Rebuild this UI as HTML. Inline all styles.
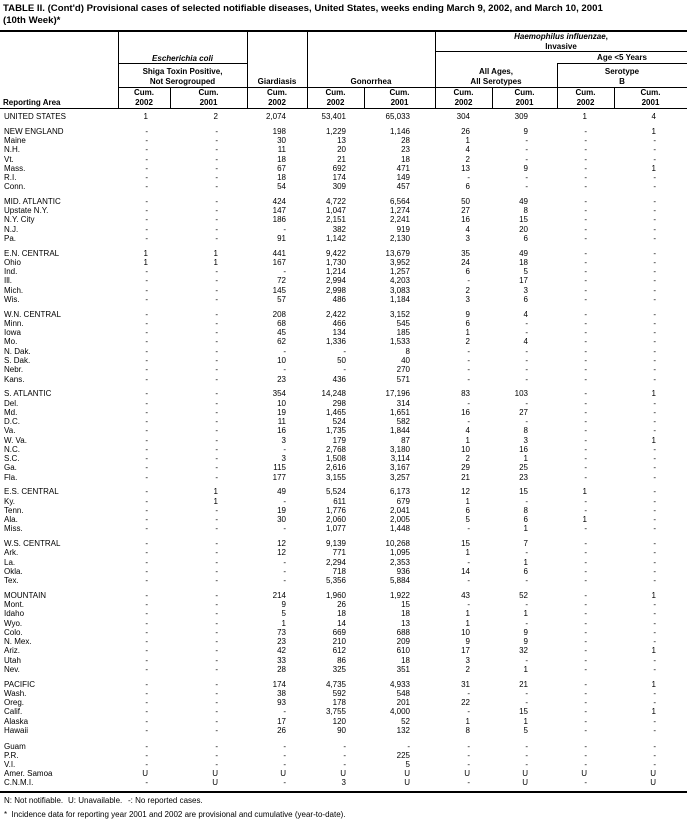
<!DOCTYPE html>
<html><head><meta charset="utf-8"><style>
html,body{margin:0;padding:0;background:#fff}
body{width:687px;height:818px;position:relative;overflow:hidden;font-family:"Liberation Sans",Arial,sans-serif;color:#000}
.t{position:absolute;left:3px;font-weight:bold;font-size:9.6px;white-space:nowrap}
.h{position:absolute;font-size:8px;font-weight:bold;text-align:center;white-space:nowrap;line-height:10px}
.i{font-style:italic}
.ln{position:absolute;background:#000}
.r{position:absolute;left:0;width:687px;height:10px;line-height:10px;font-size:8px;white-space:nowrap}
.r span{position:absolute;top:0}
.r span:nth-child(1){left:4px}
.r span:nth-child(2){right:539px}
.r span:nth-child(3){right:469px}
.r span:nth-child(4){right:401px}
.r span:nth-child(5){right:341px}
.r span:nth-child(6){right:277px}
.r span:nth-child(7){right:217px}
.r span:nth-child(8){right:159px}
.r span:nth-child(9){right:100px}
.r span:nth-child(10){right:31px}
.f{position:absolute;font-size:8px;white-space:nowrap}
</style></head><body>
<div class="t" style="top:3px">TABLE II. (Cont'd) Provisional cases of selected notifiable diseases, United States, weeks ending March 9, 2002, and March 10, 2001</div>
<div class="t" style="top:15px">(10th Week)*</div>
<div class="ln" style="left:0;top:30px;width:687px;height:1.5px"></div>
<div class="ln" style="left:0;top:108px;width:687px;height:1px"></div>
<div class="ln" style="left:0;top:791px;width:687px;height:1.5px"></div>
<div class="ln" style="left:118px;top:30px;width:1px;height:79px"></div>
<div class="ln" style="left:247px;top:30px;width:1px;height:79px"></div>
<div class="ln" style="left:307px;top:30px;width:1px;height:79px"></div>
<div class="ln" style="left:435px;top:30px;width:1px;height:79px"></div>
<div class="ln" style="left:557px;top:63px;width:1px;height:46px"></div>
<div class="ln" style="left:170px;top:87px;width:1px;height:22px"></div>
<div class="ln" style="left:364px;top:87px;width:1px;height:22px"></div>
<div class="ln" style="left:492px;top:87px;width:1px;height:22px"></div>
<div class="ln" style="left:614px;top:87px;width:1px;height:22px"></div>
<div class="ln" style="left:118px;top:63px;width:129px;height:1px"></div>
<div class="ln" style="left:435px;top:51px;width:252px;height:1px"></div>
<div class="ln" style="left:557px;top:63px;width:130px;height:1px"></div>
<div class="ln" style="left:118px;top:87px;width:569px;height:1px"></div>
<div class="h i" style="left:118px;width:129px;top:54px">Escherichia coli</div>
<div class="h" style="left:118px;width:129px;top:67px">Shiga Toxin Positive,<br>Not Serogrouped</div>
<div class="h" style="left:247px;width:60px;top:77px">Giardiasis</div>
<div class="h" style="left:307px;width:128px;top:77px">Gonorrhea</div>
<div class="h" style="left:435px;width:252px;top:32px"><span class="i">Haemophilus influenzae</span>,<br>Invasive</div>
<div class="h" style="left:435px;width:122px;top:67px">All Ages,<br>All Serotypes</div>
<div class="h" style="left:557px;width:130px;top:53px">Age &lt;5 Years</div>
<div class="h" style="left:557px;width:130px;top:67px">Serotype<br>B</div>
<div class="h" style="left:3px;top:98px;text-align:left">Reporting Area</div>
<div class="h" style="left:118px;width:52px;top:88px">Cum.<br>2002</div>
<div class="h" style="left:170px;width:77px;top:88px">Cum.<br>2001</div>
<div class="h" style="left:247px;width:60px;top:88px">Cum.<br>2002</div>
<div class="h" style="left:307px;width:57px;top:88px">Cum.<br>2002</div>
<div class="h" style="left:364px;width:71px;top:88px">Cum.<br>2001</div>
<div class="h" style="left:435px;width:57px;top:88px">Cum.<br>2002</div>
<div class="h" style="left:492px;width:65px;top:88px">Cum.<br>2001</div>
<div class="h" style="left:557px;width:57px;top:88px">Cum.<br>2002</div>
<div class="h" style="left:614px;width:73px;top:88px">Cum.<br>2001</div>

<div class="r" style="top:112px"><span>UNITED STATES</span><span>1</span><span>2</span><span>2,074</span><span>53,401</span><span>65,033</span><span>304</span><span>309</span><span>1</span><span>4</span></div>

<div class="r" style="top:127px"><span>NEW ENGLAND</span><span>-</span><span>-</span><span>198</span><span>1,229</span><span>1,146</span><span>26</span><span>9</span><span>-</span><span>1</span></div>
<div class="r" style="top:136px"><span>Maine</span><span>-</span><span>-</span><span>30</span><span>13</span><span>28</span><span>1</span><span>-</span><span>-</span><span>-</span></div>
<div class="r" style="top:145px"><span>N.H.</span><span>-</span><span>-</span><span>11</span><span>20</span><span>23</span><span>4</span><span>-</span><span>-</span><span>-</span></div>
<div class="r" style="top:155px"><span>Vt.</span><span>-</span><span>-</span><span>18</span><span>21</span><span>18</span><span>2</span><span>-</span><span>-</span><span>-</span></div>
<div class="r" style="top:164px"><span>Mass.</span><span>-</span><span>-</span><span>67</span><span>692</span><span>471</span><span>13</span><span>9</span><span>-</span><span>1</span></div>
<div class="r" style="top:173px"><span>R.I.</span><span>-</span><span>-</span><span>18</span><span>174</span><span>149</span><span>-</span><span>-</span><span>-</span><span>-</span></div>
<div class="r" style="top:182px"><span>Conn.</span><span>-</span><span>-</span><span>54</span><span>309</span><span>457</span><span>6</span><span>-</span><span>-</span><span>-</span></div>

<div class="r" style="top:197px"><span>MID. ATLANTIC</span><span>-</span><span>-</span><span>424</span><span>4,722</span><span>6,564</span><span>50</span><span>49</span><span>-</span><span>-</span></div>
<div class="r" style="top:206px"><span>Upstate N.Y.</span><span>-</span><span>-</span><span>147</span><span>1,047</span><span>1,274</span><span>27</span><span>8</span><span>-</span><span>-</span></div>
<div class="r" style="top:215px"><span>N.Y. City</span><span>-</span><span>-</span><span>186</span><span>2,151</span><span>2,241</span><span>16</span><span>15</span><span>-</span><span>-</span></div>
<div class="r" style="top:225px"><span>N.J.</span><span>-</span><span>-</span><span>-</span><span>382</span><span>919</span><span>4</span><span>20</span><span>-</span><span>-</span></div>
<div class="r" style="top:234px"><span>Pa.</span><span>-</span><span>-</span><span>91</span><span>1,142</span><span>2,130</span><span>3</span><span>6</span><span>-</span><span>-</span></div>

<div class="r" style="top:249px"><span>E.N. CENTRAL</span><span>1</span><span>1</span><span>441</span><span>9,422</span><span>13,679</span><span>35</span><span>49</span><span>-</span><span>-</span></div>
<div class="r" style="top:258px"><span>Ohio</span><span>1</span><span>1</span><span>167</span><span>1,730</span><span>3,952</span><span>24</span><span>18</span><span>-</span><span>-</span></div>
<div class="r" style="top:267px"><span>Ind.</span><span>-</span><span>-</span><span>-</span><span>1,214</span><span>1,257</span><span>6</span><span>5</span><span>-</span><span>-</span></div>
<div class="r" style="top:276px"><span>Ill.</span><span>-</span><span>-</span><span>72</span><span>2,994</span><span>4,203</span><span>-</span><span>17</span><span>-</span><span>-</span></div>
<div class="r" style="top:286px"><span>Mich.</span><span>-</span><span>-</span><span>145</span><span>2,998</span><span>3,083</span><span>2</span><span>3</span><span>-</span><span>-</span></div>
<div class="r" style="top:295px"><span>Wis.</span><span>-</span><span>-</span><span>57</span><span>486</span><span>1,184</span><span>3</span><span>6</span><span>-</span><span>-</span></div>

<div class="r" style="top:310px"><span>W.N. CENTRAL</span><span>-</span><span>-</span><span>208</span><span>2,422</span><span>3,152</span><span>9</span><span>4</span><span>-</span><span>-</span></div>
<div class="r" style="top:319px"><span>Minn.</span><span>-</span><span>-</span><span>68</span><span>466</span><span>545</span><span>6</span><span>-</span><span>-</span><span>-</span></div>
<div class="r" style="top:328px"><span>Iowa</span><span>-</span><span>-</span><span>45</span><span>134</span><span>185</span><span>1</span><span>-</span><span>-</span><span>-</span></div>
<div class="r" style="top:337px"><span>Mo.</span><span>-</span><span>-</span><span>62</span><span>1,336</span><span>1,533</span><span>2</span><span>4</span><span>-</span><span>-</span></div>
<div class="r" style="top:347px"><span>N. Dak.</span><span>-</span><span>-</span><span>-</span><span>-</span><span>8</span><span>-</span><span>-</span><span>-</span><span>-</span></div>
<div class="r" style="top:356px"><span>S. Dak.</span><span>-</span><span>-</span><span>10</span><span>50</span><span>40</span><span>-</span><span>-</span><span>-</span><span>-</span></div>
<div class="r" style="top:365px"><span>Nebr.</span><span>-</span><span>-</span><span>-</span><span>-</span><span>270</span><span>-</span><span>-</span><span>-</span><span>-</span></div>
<div class="r" style="top:375px"><span>Kans.</span><span>-</span><span>-</span><span>23</span><span>436</span><span>571</span><span>-</span><span>-</span><span>-</span><span>-</span></div>

<div class="r" style="top:389px"><span>S. ATLANTIC</span><span>-</span><span>-</span><span>354</span><span>14,248</span><span>17,196</span><span>83</span><span>103</span><span>-</span><span>1</span></div>
<div class="r" style="top:399px"><span>Del.</span><span>-</span><span>-</span><span>10</span><span>298</span><span>314</span><span>-</span><span>-</span><span>-</span><span>-</span></div>
<div class="r" style="top:408px"><span>Md.</span><span>-</span><span>-</span><span>19</span><span>1,465</span><span>1,651</span><span>16</span><span>27</span><span>-</span><span>-</span></div>
<div class="r" style="top:417px"><span>D.C.</span><span>-</span><span>-</span><span>11</span><span>524</span><span>582</span><span>-</span><span>-</span><span>-</span><span>-</span></div>
<div class="r" style="top:426px"><span>Va.</span><span>-</span><span>-</span><span>16</span><span>1,735</span><span>1,844</span><span>4</span><span>8</span><span>-</span><span>-</span></div>
<div class="r" style="top:436px"><span>W. Va.</span><span>-</span><span>-</span><span>3</span><span>179</span><span>87</span><span>1</span><span>3</span><span>-</span><span>1</span></div>
<div class="r" style="top:445px"><span>N.C.</span><span>-</span><span>-</span><span>-</span><span>2,768</span><span>3,180</span><span>10</span><span>16</span><span>-</span><span>-</span></div>
<div class="r" style="top:454px"><span>S.C.</span><span>-</span><span>-</span><span>3</span><span>1,508</span><span>3,114</span><span>2</span><span>1</span><span>-</span><span>-</span></div>
<div class="r" style="top:463px"><span>Ga.</span><span>-</span><span>-</span><span>115</span><span>2,616</span><span>3,167</span><span>29</span><span>25</span><span>-</span><span>-</span></div>
<div class="r" style="top:473px"><span>Fla.</span><span>-</span><span>-</span><span>177</span><span>3,155</span><span>3,257</span><span>21</span><span>23</span><span>-</span><span>-</span></div>

<div class="r" style="top:487px"><span>E.S. CENTRAL</span><span>-</span><span>1</span><span>49</span><span>5,524</span><span>6,173</span><span>12</span><span>15</span><span>1</span><span>-</span></div>
<div class="r" style="top:497px"><span>Ky.</span><span>-</span><span>1</span><span>-</span><span>611</span><span>679</span><span>1</span><span>-</span><span>-</span><span>-</span></div>
<div class="r" style="top:506px"><span>Tenn.</span><span>-</span><span>-</span><span>19</span><span>1,776</span><span>2,041</span><span>6</span><span>8</span><span>-</span><span>-</span></div>
<div class="r" style="top:515px"><span>Ala.</span><span>-</span><span>-</span><span>30</span><span>2,060</span><span>2,005</span><span>5</span><span>6</span><span>1</span><span>-</span></div>
<div class="r" style="top:524px"><span>Miss.</span><span>-</span><span>-</span><span>-</span><span>1,077</span><span>1,448</span><span>-</span><span>1</span><span>-</span><span>-</span></div>

<div class="r" style="top:539px"><span>W.S. CENTRAL</span><span>-</span><span>-</span><span>12</span><span>9,139</span><span>10,268</span><span>15</span><span>7</span><span>-</span><span>-</span></div>
<div class="r" style="top:548px"><span>Ark.</span><span>-</span><span>-</span><span>12</span><span>771</span><span>1,095</span><span>1</span><span>-</span><span>-</span><span>-</span></div>
<div class="r" style="top:558px"><span>La.</span><span>-</span><span>-</span><span>-</span><span>2,294</span><span>2,353</span><span>-</span><span>1</span><span>-</span><span>-</span></div>
<div class="r" style="top:567px"><span>Okla.</span><span>-</span><span>-</span><span>-</span><span>718</span><span>936</span><span>14</span><span>6</span><span>-</span><span>-</span></div>
<div class="r" style="top:576px"><span>Tex.</span><span>-</span><span>-</span><span>-</span><span>5,356</span><span>5,884</span><span>-</span><span>-</span><span>-</span><span>-</span></div>

<div class="r" style="top:591px"><span>MOUNTAIN</span><span>-</span><span>-</span><span>214</span><span>1,960</span><span>1,922</span><span>43</span><span>52</span><span>-</span><span>1</span></div>
<div class="r" style="top:600px"><span>Mont.</span><span>-</span><span>-</span><span>9</span><span>26</span><span>15</span><span>-</span><span>-</span><span>-</span><span>-</span></div>
<div class="r" style="top:609px"><span>Idaho</span><span>-</span><span>-</span><span>5</span><span>18</span><span>18</span><span>1</span><span>1</span><span>-</span><span>-</span></div>
<div class="r" style="top:619px"><span>Wyo.</span><span>-</span><span>-</span><span>1</span><span>14</span><span>13</span><span>1</span><span>-</span><span>-</span><span>-</span></div>
<div class="r" style="top:628px"><span>Colo.</span><span>-</span><span>-</span><span>73</span><span>669</span><span>688</span><span>10</span><span>9</span><span>-</span><span>-</span></div>
<div class="r" style="top:637px"><span>N. Mex.</span><span>-</span><span>-</span><span>23</span><span>210</span><span>209</span><span>9</span><span>9</span><span>-</span><span>-</span></div>
<div class="r" style="top:646px"><span>Ariz.</span><span>-</span><span>-</span><span>42</span><span>612</span><span>610</span><span>17</span><span>32</span><span>-</span><span>1</span></div>
<div class="r" style="top:656px"><span>Utah</span><span>-</span><span>-</span><span>33</span><span>86</span><span>18</span><span>3</span><span>-</span><span>-</span><span>-</span></div>
<div class="r" style="top:665px"><span>Nev.</span><span>-</span><span>-</span><span>28</span><span>325</span><span>351</span><span>2</span><span>1</span><span>-</span><span>-</span></div>

<div class="r" style="top:680px"><span>PACIFIC</span><span>-</span><span>-</span><span>174</span><span>4,735</span><span>4,933</span><span>31</span><span>21</span><span>-</span><span>1</span></div>
<div class="r" style="top:689px"><span>Wash.</span><span>-</span><span>-</span><span>38</span><span>592</span><span>548</span><span>-</span><span>-</span><span>-</span><span>-</span></div>
<div class="r" style="top:698px"><span>Oreg.</span><span>-</span><span>-</span><span>93</span><span>178</span><span>201</span><span>22</span><span>-</span><span>-</span><span>-</span></div>
<div class="r" style="top:707px"><span>Calif.</span><span>-</span><span>-</span><span>-</span><span>3,755</span><span>4,000</span><span>-</span><span>15</span><span>-</span><span>1</span></div>
<div class="r" style="top:717px"><span>Alaska</span><span>-</span><span>-</span><span>17</span><span>120</span><span>52</span><span>1</span><span>1</span><span>-</span><span>-</span></div>
<div class="r" style="top:726px"><span>Hawaii</span><span>-</span><span>-</span><span>26</span><span>90</span><span>132</span><span>8</span><span>5</span><span>-</span><span>-</span></div>

<div class="r" style="top:742px"><span>Guam</span><span>-</span><span>-</span><span>-</span><span>-</span><span>-</span><span>-</span><span>-</span><span>-</span><span>-</span></div>
<div class="r" style="top:751px"><span>P.R.</span><span>-</span><span>-</span><span>-</span><span>-</span><span>225</span><span>-</span><span>-</span><span>-</span><span>-</span></div>
<div class="r" style="top:760px"><span>V.I.</span><span>-</span><span>-</span><span>-</span><span>-</span><span>5</span><span>-</span><span>-</span><span>-</span><span>-</span></div>
<div class="r" style="top:769px"><span>Amer. Samoa</span><span>U</span><span>U</span><span>U</span><span>U</span><span>U</span><span>U</span><span>U</span><span>U</span><span>U</span></div>
<div class="r" style="top:778px"><span>C.N.M.I.</span><span>-</span><span>U</span><span>-</span><span>3</span><span>U</span><span>-</span><span>U</span><span>-</span><span>U</span></div>

<div class="f" style="left:4px;top:796px">N: Not notifiable.</div>
<div class="f" style="left:68px;top:796px">U: Unavailable.</div>
<div class="f" style="left:128px;top:796px">-: No reported cases.</div>
<div class="f" style="left:4px;top:810px">*&nbsp; Incidence data for reporting year 2001 and 2002 are provisional and cumulative (year-to-date).</div>
</body></html>
